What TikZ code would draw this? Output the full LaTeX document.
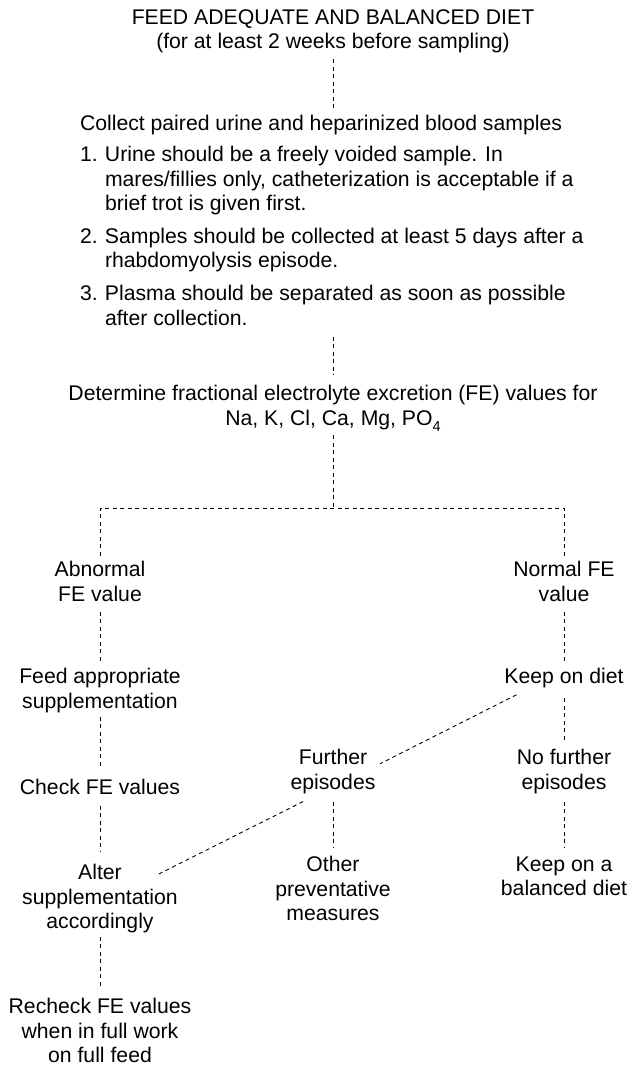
\documentclass[tikz,border=0pt]{standalone}
\usepackage{fontspec}
\setmainfont{Liberation Sans}
\usetikzlibrary{calc}
\begin{document}
\begin{tikzpicture}[x=1pt,y=-1pt,
  every node/.style={inner sep=0pt, outer sep=0pt,
    font=\fontsize{21.2}{24.3}\selectfont, align=center},
  txt/.style={anchor=north},
  lefttxt/.style={anchor=north west, align=left},
  conn/.style={draw=black, line width=0.9pt, dash pattern=on 4pt off 3.5pt},
]
\useasboundingbox (0,0) rectangle (629,1066);

% main trunk
\node[txt] (title) at (333,9.5)
  {FEED ADEQUATE AND BALANCED DIET\\(for at least 2 weeks before sampling)};
\node[lefttxt] (collect) at (80,115.5)
  {Collect paired urine and heparinized blood samples};
\node[lefttxt] (list) at (80,146.5)
  {\makebox[25pt][l]{1.}Urine should be a freely voided sample. In\\
   \hspace*{25pt}mares/fillies only, catheterization is acceptable if a\\
   \hspace*{25pt}brief trot is given first.\\[8.7pt]
   \makebox[25pt][l]{2.}Samples should be collected at least 5 days after a\\
   \hspace*{25pt}rhabdomyolysis episode.\\[8.7pt]
   \makebox[25pt][l]{3.}Plasma should be separated as soon as possible\\
   \hspace*{25pt}after collection.};
\node[txt] (determine) at (333,385.5)
  {Determine fractional electrolyte excretion (FE) values for\\
   Na, K, Cl, Ca, Mg, PO\raisebox{-0.28em}{\fontsize{14.5}{14.5}\selectfont 4}};

% branch point
\coordinate (split) at (333,508);

% left column
\node[txt] (abn) at (100,561.5) {Abnormal\\FE value};
\node[txt] (feed) at (100,668.5) {Feed appropriate\\supplementation};
\node[txt] (check) at (100,779.5) {Check FE values};
\node[txt] (alter) at (100,864.5) {Alter\\supplementation\\accordingly};
\node[txt] (recheck) at (100,998.5) {Recheck FE values\\when in full work\\on full feed};

% middle column
\node[txt] (further) at (333,749.5) {Further\\episodes};
\node[txt] (other) at (333,856.5) {Other\\preventative\\measures};

% right column
\node[txt] (norm) at (564,561.5) {Normal FE\\value};
\node[txt] (keep) at (564,668.5) {Keep on diet};
\node[txt] (nofurther) at (564,749.5) {No further\\episodes};
\node[txt] (keepbal) at (564,856.5) {Keep on a\\balanced diet};

% connectors
\draw[conn, shorten <=6pt, shorten >=8pt] (title) -- (collect.north -| title.south);
\draw[conn, shorten <=11.5pt, shorten >=11pt] (list.south -| determine.north) -- (determine.north);
\draw[conn, shorten <=4pt] (determine.south) -- (split);
\draw[conn, shorten <=6pt, shorten >=6pt]
  (abn.north) -- (abn.north |- split) -- (norm.north |- split) -- (norm.north);

\draw[conn, shorten <=10.5pt, shorten >=7pt] (abn.south) -- (feed.north);
\draw[conn, shorten <=4pt, shorten >=13pt] (feed.south) -- (check.north);
\draw[conn, shorten <=10.5pt, shorten >=13pt] (check.south) -- (alter.north);
\draw[conn, shorten <=4pt, shorten >=12pt] (alter.south) -- (recheck.north);

\draw[conn, shorten <=10.5pt, shorten >=7pt] (norm.south) -- (keep.north);
\draw[conn, shorten <=10pt, shorten >=8pt] (keep.south) -- (nofurther.north);
\draw[conn, shorten <=8pt, shorten >=9pt] (nofurther.south) -- (keepbal.north);
\draw[conn, shorten <=8pt, shorten >=9pt] (further.south) -- (other.north);

\draw[conn] ([shift={(12,6.5)}]keep.south west) -- ([shift={(4.5,-7.7)}]further.east);
\draw[conn] ([shift={(12.5,8)}]further.south west) -- ([shift={(-21,10.5)}]alter.north east);
\end{tikzpicture}
\end{document}
